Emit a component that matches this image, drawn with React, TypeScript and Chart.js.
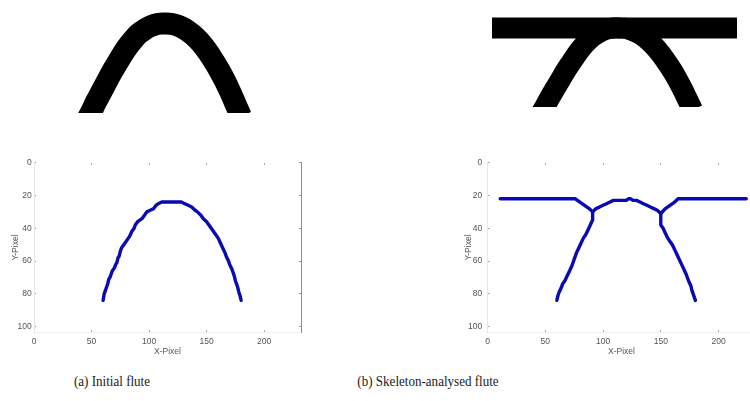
import { useEffect, useRef } from 'react';
import { Chart, registerables } from 'chart.js';

Chart.register(...registerables);

// Image extent in pixels (x to the right, y downward)
const imageWidth = 232;
const imageHeight = 103.5;

// Axis tick values
const xTickValues = [0, 50, 100, 150, 200];
const yTickValues = [0, 20, 40, 60, 80, 100];

// Flute cross-section centre line (binary image), runs past the lower image edge
const sectionArchX = [46, 50, 55, 60, 65, 70, 75, 80, 85, 90, 95, 100, 105, 110, 115, 120, 125, 130, 135, 140, 145, 150, 155, 160, 165, 170, 175, 180, 185, 190];
const sectionArchY = [110, 103, 93, 84, 75, 66, 58, 50, 43, 37, 32, 28.5, 25.8, 24, 23.1, 23, 23.3, 24.5, 26.5, 29.3, 33, 37.5, 43, 49.5, 57, 65, 74, 84, 95, 106];
// Liner bonded on top of the flute
const linerX = [-10, 245];
const linerY = [23, 23];

// (a) skeleton of the initial flute
const initialFluteX = [60, 61, 62, 63, 64, 65, 66, 67, 68, 70, 71, 72, 73, 74, 75, 76, 78, 80, 82, 83, 85, 87, 88, 90, 92, 94, 96, 98, 101, 104, 106, 108, 111, 113, 116, 119, 122, 125, 128, 131, 134, 137, 140, 142, 145, 147, 150, 152, 154, 156, 158, 160, 162, 164, 166, 167, 169, 170, 172, 173, 174, 175, 176, 177, 178, 179, 180];
const initialFluteY = [84, 80, 78, 76, 74, 71, 70, 68, 66, 64, 62, 61, 58, 57, 54, 52, 50, 48, 46, 45, 42, 40, 38, 36, 35, 34, 32, 30, 29, 28, 26, 25, 24, 24, 24, 24, 24, 24, 24, 25, 26, 27, 29, 30, 32, 34, 36, 38, 40, 42, 44, 46, 49, 52, 55, 57, 60, 62, 65, 67, 69, 72, 74, 76, 79, 81, 84];

// (b) skeleton branches after analysis
const linerLeftX = [11, 76, 80, 84, 88, 91];
const linerLeftY = [22, 22, 24, 26, 28, 30];
const crestX = [91, 94, 97, 100, 103, 106, 109, 113, 117, 120, 122, 124, 126, 129, 132, 135, 138, 141, 144, 147, 150];
const crestY = [30, 28, 27, 26, 25, 24, 23, 23, 23, 23, 22, 22, 23, 23, 24, 25, 26, 27, 28, 29, 31];
const linerRightX = [150, 154, 158, 162, 165, 224];
const linerRightY = [31, 28, 26, 24, 22, 22];
const legLeftX = [91, 91, 89, 87, 85, 83, 81, 79, 77, 75, 73, 71, 69, 67, 65, 64, 62, 61, 60];
const legLeftY = [30, 35, 38, 41, 44, 46, 49, 52, 55, 59, 63, 66, 69, 72, 74, 76, 79, 81, 84];
const legRightX = [150, 150, 152, 154, 156, 158, 160, 162, 164, 166, 168, 170, 172, 173, 174, 176, 177, 178, 179, 180];
const legRightY = [31, 38, 40, 43, 46, 48, 50, 53, 56, 59, 62, 65, 68, 70, 72, 75, 78, 80, 82, 84];

const skeletonBlue = '#0a0ab4';
const axisText = '#555555';
const tickFont = { family: "'Liberation Sans', Arial, sans-serif", size: 8.5 };

const pts = (xs: number[], ys: number[]) => xs.map((x, i) => ({ x, y: ys[i] }));

function sectionConfig(withLiner: boolean, yMin: number, thickness: number): any {
  const datasets: any[] = [
    {
      data: pts(sectionArchX, sectionArchY),
      showLine: true,
      borderColor: '#000',
      borderWidth: thickness,
      borderJoinStyle: 'round',
      borderCapStyle: 'butt',
      tension: 0.3,
      pointRadius: 0,
      clip: 0,
    },
  ];
  if (withLiner) {
    datasets.push({
      data: pts(linerX, linerY),
      showLine: true,
      borderColor: '#000',
      borderWidth: thickness,
      borderCapStyle: 'butt',
      pointRadius: 0,
      clip: 0,
    });
  }
  return {
    type: 'scatter',
    data: { datasets },
    options: {
      responsive: false,
      animation: false,
      events: [],
      layout: { padding: 0 },
      plugins: { legend: { display: false }, tooltip: { enabled: false } },
      scales: {
        x: { type: 'linear', display: false, min: 0, max: imageWidth },
        y: { type: 'linear', display: false, reverse: true, min: yMin, max: 103 },
      },
    },
  };
}

interface PlotLayout {
  yAxisWidth: number;
  rightPad: number;
  yLabelPad: number;
  yTitlePad: number;
}

function skeletonConfig(branches: { x: number[]; y: number[] }[], l: PlotLayout): any {
  const setXTicks = (s: any) => {
    s.ticks = xTickValues.map((v) => ({ value: v }));
  };
  const setYTicks = (s: any) => {
    s.ticks = yTickValues.map((v) => ({ value: v }));
  };
  const tickGrid = { drawOnChartArea: false, drawTicks: true, tickLength: -2, tickColor: '#9a9a9a', tickWidth: 1 };
  return {
    type: 'scatter',
    data: {
      datasets: branches.map((b) => ({
        data: pts(b.x, b.y),
        showLine: true,
        borderColor: skeletonBlue,
        borderWidth: 3.4,
        borderJoinStyle: 'round',
        borderCapStyle: 'round',
        pointRadius: 0,
      })),
    },
    options: {
      responsive: false,
      animation: false,
      events: [],
      layout: { padding: { top: 12.7, right: l.rightPad, bottom: 0, left: 0 } },
      plugins: { legend: { display: false }, tooltip: { enabled: false } },
      scales: {
        x: {
          type: 'linear',
          position: 'bottom',
          min: 0,
          max: imageWidth,
          afterBuildTicks: setXTicks,
          ticks: { color: axisText, font: tickFont, padding: 6.6, maxRotation: 0, autoSkip: false },
          grid: tickGrid,
          border: { display: true, color: '#f1f1f1' },
          title: { display: true, text: 'X-Pixel', color: axisText, font: tickFont, padding: { top: 0, bottom: 3 } },
          afterFit: (s: any) => {
            s.height = 27.6;
          },
        },
        y: {
          type: 'linear',
          position: 'left',
          reverse: true,
          min: 0,
          max: imageHeight,
          afterBuildTicks: setYTicks,
          ticks: { color: axisText, font: tickFont, padding: l.yLabelPad, autoSkip: false },
          grid: tickGrid,
          border: { display: true, color: '#e6e6e6' },
          title: { display: true, text: 'Y-Pixel', color: axisText, font: tickFont, padding: { top: l.yTitlePad, bottom: 0 } },
          afterFit: (s: any) => {
            s.width = l.yAxisWidth;
          },
        },
        xTop: {
          type: 'linear',
          axis: 'x',
          position: 'top',
          min: 0,
          max: imageWidth,
          afterBuildTicks: setXTicks,
          ticks: { display: false },
          grid: tickGrid,
          border: { display: false },
          afterFit: (s: any) => {
            s.height = 0;
          },
        },
        yRight: {
          type: 'linear',
          axis: 'y',
          position: 'right',
          reverse: true,
          min: 0,
          max: imageHeight,
          afterBuildTicks: setYTicks,
          ticks: { display: false },
          grid: tickGrid,
          border: { display: true, color: '#8c8c8c', width: 1 },
          afterFit: (s: any) => {
            s.width = 0;
          },
        },
      },
    },
  };
}

function ChartCanvas(props: { make: () => any; left: number; top: number; width: number; height: number }) {
  const ref = useRef<HTMLCanvasElement>(null);
  useEffect(() => {
    const chart = new Chart(ref.current as HTMLCanvasElement, props.make());
    return () => chart.destroy();
  }, []);
  return (
    <canvas
      ref={ref}
      width={props.width}
      height={props.height}
      style={{ position: 'absolute', left: props.left, top: props.top, width: props.width, height: props.height }}
    />
  );
}

const captionStyle: any = {
  position: 'absolute',
  top: 381,
  transform: 'translate(-50%, -50%) scaleX(0.87)',
  whiteSpace: 'nowrap',
  fontFamily: "'Liberation Serif', 'Times New Roman', serif",
  fontSize: 15,
  color: '#1a1a1a',
};

export default function App() {
  return (
    <div
      style={{
        position: 'fixed',
        left: 0,
        top: 0,
        width: 750,
        height: 401,
        overflow: 'hidden',
        background: '#fff',
      }}
    >
      <ChartCanvas make={() => sectionConfig(false, 2, 22)} left={37} top={0} width={249} height={113} />
      <ChartCanvas make={() => sectionConfig(true, -5.2, 21)} left={492} top={0} width={245} height={107} />
      <ChartCanvas
        make={() =>
          skeletonConfig([{ x: initialFluteX, y: initialFluteY }], {
            yAxisWidth: 34,
            rightPad: 19,
            yLabelPad: 4.3,
            yTitlePad: 10.2,
          })
        }
        left={0}
        top={150}
        width={320}
        height={210}
      />
      <ChartCanvas
        make={() =>
          skeletonConfig(
            [
              { x: linerLeftX, y: linerLeftY },
              { x: crestX, y: crestY },
              { x: linerRightX, y: linerRightY },
              { x: legLeftX, y: legLeftY },
              { x: legRightX, y: legRightY },
            ],
            { yAxisWidth: 37.5, rightPad: 14.5, yLabelPad: 7.2, yTitlePad: 13.2 }
          )
        }
        left={450}
        top={150}
        width={320}
        height={210}
      />
      <div style={{ ...captionStyle, left: 111.7 }}>(a) Initial flute</div>
      <div style={{ ...captionStyle, left: 428 }}>(b) Skeleton-analysed flute</div>
    </div>
  );
}
